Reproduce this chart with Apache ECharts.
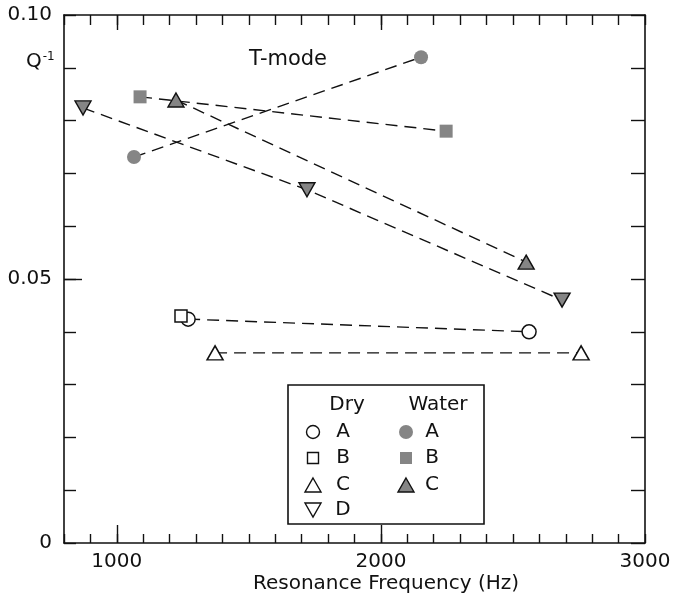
<!DOCTYPE html>
<html>
<head>
<meta charset="utf-8">
<script src="https://cdn.jsdelivr.net/npm/echarts@6/dist/echarts.min.js"></script>
<style>html,body{margin:0;padding:0;background:#fff}#c{width:674px;height:599px}</style>
</head>
<body>
<div id="c"></div>
<script>
// ---- data (frequency Hz, Q^-1) ----
const dryA = [[1270, 0.0424], [2561, 0.0400]];
const dryB = [[1243, 0.0430]];
const dryC = [[1372, 0.0360], [2758, 0.0360]];
const waterA = [[1065, 0.0731], [2152, 0.0920]];
const waterB = [[1088, 0.0845], [2247, 0.0780]];
const waterC = [[1224, 0.0839], [2550, 0.0532]];
const waterD = [[872, 0.0824], [1720, 0.0669], [2686, 0.0460]];
const xTickLabels = [1000, 2000, 3000];
const yTickLabels = [0, 0.05, 0.1];
const yLabelText = {0: '0', 0.05: '0.05', 0.1: '0.10'};

const FONT = 'DejaVu Sans';
const INK = '#111111';
const GRAY = '#858585';
const F20 = '20px "DejaVu Sans"';

const chart = echarts.init(document.getElementById('c'), null, {renderer: 'canvas'});

const dash = {type: [12, 7], width: 1.4, color: INK};
function lineSeries(name, data, symbol, size, filled, rotate, border) {
  return {
    name, type: 'line', data, xAxisIndex: 0, yAxisIndex: 0,
    symbol, symbolSize: size, symbolRotate: rotate || 0, showSymbol: true,
    lineStyle: dash, z: 3,
    itemStyle: filled
      ? {color: GRAY, borderColor: border ? INK : GRAY, borderWidth: border ? 1.4 : 0}
      : {color: '#fff', borderColor: INK, borderWidth: 1.5},
    emphasis: {disabled: true}
  };
}

const xBase = {min: 800, max: 3000, interval: 100, type: 'value', splitLine: {show: false}, gridIndex: 0};
const yBase = {min: 0, max: 0.1, interval: 0.01, type: 'value', splitLine: {show: false}, gridIndex: 0};
const tickStyle = {color: INK, width: 1.4};

const option = {
  animation: false,
  backgroundColor: '#fff',
  grid: {left: 64, right: 29, top: 15, bottom: 56},
  xAxis: [
    Object.assign({}, xBase, {
      position: 'bottom',
      axisLine: {show: true, onZero: false, lineStyle: {color: INK, width: 1.6}},
      axisTick: {show: true, inside: true, length: 9, lineStyle: tickStyle},
      axisLabel: {show: true, customValues: xTickLabels, margin: 9,
        fontFamily: FONT, fontSize: 20, color: INK, formatter: v => String(v)}
    }),
    Object.assign({}, xBase, {
      position: 'bottom',
      axisLine: {show: false, onZero: false},
      axisTick: {show: true, inside: true, length: 18, customValues: [1000, 2000], lineStyle: tickStyle},
      axisLabel: {show: false}
    }),
    Object.assign({}, xBase, {
      position: 'top',
      axisLine: {show: true, onZero: false, lineStyle: {color: INK, width: 1.6}},
      axisTick: {show: true, inside: true, length: 10, lineStyle: tickStyle},
      axisLabel: {show: false}
    }),
    Object.assign({}, xBase, {
      position: 'top',
      axisLine: {show: false, onZero: false},
      axisTick: {show: true, inside: true, length: 15, customValues: [1000, 2000], lineStyle: tickStyle},
      axisLabel: {show: false}
    })
  ],
  yAxis: [
    Object.assign({}, yBase, {
      position: 'left',
      axisLine: {show: true, onZero: false, lineStyle: {color: INK, width: 1.6}},
      axisTick: {show: true, inside: true, length: 12, lineStyle: tickStyle},
      axisLabel: {show: true, customValues: yTickLabels, margin: 12,
        fontFamily: FONT, fontSize: 20, color: INK,
        formatter: v => { const k = Math.round(v * 100) / 100; return yLabelText[k] !== undefined ? yLabelText[k] : String(v); }}
    }),
    Object.assign({}, yBase, {
      position: 'left',
      axisLine: {show: false, onZero: false},
      axisTick: {show: true, inside: true, length: 18, customValues: [0.05], lineStyle: tickStyle},
      axisLabel: {show: false}
    }),
    Object.assign({}, yBase, {
      position: 'right',
      axisLine: {show: true, onZero: false, lineStyle: {color: INK, width: 1.6}},
      axisTick: {show: true, inside: true, length: 14, lineStyle: tickStyle},
      axisLabel: {show: false}
    })
  ],
  series: [
    lineSeries('Water D', waterD, 'triangle', [16, 14], true, 180, true),
    lineSeries('Water A', waterA, 'circle', 14, true, 0, false),
    lineSeries('Water B', waterB, 'rect', 13, true, 0, false),
    lineSeries('Water C', waterC, 'triangle', [16, 14], true, 0, true),
    lineSeries('Dry A', dryA, 'circle', 14, false),
    lineSeries('Dry B', dryB, 'rect', 12, false),
    lineSeries('Dry C', dryC, 'triangle', [16, 14], false)
  ],
  graphic: [
    {type: 'text', left: 249, top: 49, z: 20, style: {text: 'T-mode', font: '21px "DejaVu Sans"', fill: INK}},
    {type: 'text', left: 26, top: 51, z: 20, style: {
      text: '{q|Q}{s|-1}', fill: INK,
      rich: {q: {font: F20, fill: INK}, s: {font: '12px "DejaVu Sans"', fill: INK, verticalAlign: 'top', padding: [0, 0, 9, 1]}}
    }},
    {type: 'text', x: 386, y: 584, z: 20, style: {text: 'Resonance Frequency (Hz)', font: F20, fill: INK, align: 'center', verticalAlign: 'middle'}},
    // legend box
    {type: 'rect', z: 10, shape: {x: 288, y: 385, width: 196, height: 139}, style: {fill: '#fff', stroke: INK, lineWidth: 1.6}},
    {type: 'text', z: 20, x: 347, y: 405, style: {text: 'Dry', font: F20, fill: INK, align: 'center', verticalAlign: 'middle'}},
    {type: 'text', z: 20, x: 438, y: 405, style: {text: 'Water', font: F20, fill: INK, align: 'center', verticalAlign: 'middle'}},
    {type: 'circle', z: 20, shape: {cx: 313, cy: 432, r: 6.5}, style: {fill: '#fff', stroke: INK, lineWidth: 1.4}},
    {type: 'rect', z: 20, shape: {x: 307.5, y: 452.5, width: 11, height: 11}, style: {fill: '#fff', stroke: INK, lineWidth: 1.4}},
    {type: 'polygon', z: 20, shape: {points: [[313, 478], [321, 492], [305, 492]]}, style: {fill: '#fff', stroke: INK, lineWidth: 1.4}},
    {type: 'polygon', z: 20, shape: {points: [[305, 503], [321, 503], [313, 517]]}, style: {fill: '#fff', stroke: INK, lineWidth: 1.4}},
    {type: 'text', z: 20, x: 343, y: 432, style: {text: 'A', font: F20, fill: INK, align: 'center', verticalAlign: 'middle'}},
    {type: 'text', z: 20, x: 343, y: 458, style: {text: 'B', font: F20, fill: INK, align: 'center', verticalAlign: 'middle'}},
    {type: 'text', z: 20, x: 343, y: 485, style: {text: 'C', font: F20, fill: INK, align: 'center', verticalAlign: 'middle'}},
    {type: 'text', z: 20, x: 343, y: 510, style: {text: 'D', font: F20, fill: INK, align: 'center', verticalAlign: 'middle'}},
    {type: 'circle', z: 20, shape: {cx: 406, cy: 432, r: 7}, style: {fill: GRAY}},
    {type: 'rect', z: 20, shape: {x: 400, y: 452, width: 12, height: 12}, style: {fill: GRAY}},
    {type: 'polygon', z: 20, shape: {points: [[406, 478], [414, 492], [398, 492]]}, style: {fill: GRAY, stroke: INK, lineWidth: 1.4}},
    {type: 'text', z: 20, x: 432, y: 432, style: {text: 'A', font: F20, fill: INK, align: 'center', verticalAlign: 'middle'}},
    {type: 'text', z: 20, x: 432, y: 458, style: {text: 'B', font: F20, fill: INK, align: 'center', verticalAlign: 'middle'}},
    {type: 'text', z: 20, x: 432, y: 485, style: {text: 'C', font: F20, fill: INK, align: 'center', verticalAlign: 'middle'}}
  ]
};
chart.setOption(option);
</script>
</body>
</html>
